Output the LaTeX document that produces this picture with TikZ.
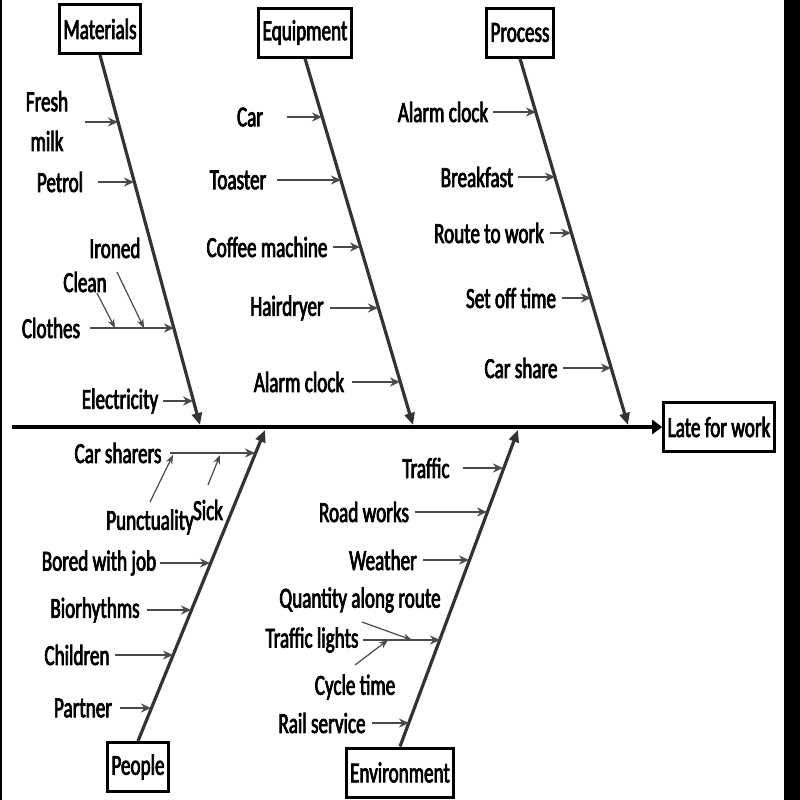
\documentclass[tikz,border=0pt]{standalone}
\usepackage{fontspec}
\setmainfont[FakeStretch=0.66,FakeBold=2.5]{Carlito}
\usetikzlibrary{arrows.meta}
\definecolor{bonegray}{HTML}{333333}
\definecolor{causegray}{HTML}{4A4A4A}
\newcommand{\fishfont}{\fontsize{14.5}{17.4}\selectfont}

\begin{document}
\begin{tikzpicture}[x=0.5pt,y=-0.5pt,
    catbox/.style={draw=black,line width=1.5pt,inner xsep=2pt,minimum height=24.5pt,font=\fishfont},
    cause/.style={inner sep=0pt,align=center,font=\fishfont},
    causearrow/.style={causegray,line width=1.2pt,-{Stealth[length=5pt,width=4.5pt]}},
    subarrow/.style={causegray,line width=0.6pt,-{Stealth[length=4.5pt,width=3.5pt]}},
    bone/.style={bonegray,line width=1.6pt,-{Triangle[length=6pt,width=5pt]}},
    spine/.style={black,line width=2.4pt,-{Triangle[length=5pt,width=7pt]}}]
  \useasboundingbox (0,0) rectangle (800,800);
  \fill[white] (0,0) rectangle (800,800);
  \fill[black] (784,0) rectangle (800,800);
  \draw[line width=1pt] (1,0) -- (1,800);

  \node[catbox] (mat) at (100,29) {Materials};
  \node[catbox] (equ) at (305,32.5) {Equipment};
  \node[catbox] (pro) at (520,32.5) {Process};
  \node[catbox] (ppl) at (138,767) {People};
  \node[catbox] (env) at (400,772.5) {Environment};
  \node[catbox] (late) at (719,427) {Late for work};

  \coordinate (tail) at (12,427);
  \coordinate (matTip) at (200,425);
  \coordinate (equTip) at (413,425);
  \coordinate (proTip) at (628,425);
  \coordinate (pplTip) at (265,430);
  \coordinate (envTip) at (518,430);

  \draw[spine] (tail) -- (late.west);
  \path (mat.south) [bone] edge (matTip)
        (equ.south) [bone] edge (equTip)
        (pro.south) [bone] edge (proTip)
        (ppl.north) [bone] edge (pplTip)
        (env.north) [bone] edge (envTip);

  \foreach \n/\txt/\tx/\ty/\ay/\ax/\bx in {
      m1/{Fresh\\[2.5pt]milk}/47/121/122/85/118,
      m2/Petrol/60/182/182/98/134,
      m3/Clothes/51/328/328/90/174,
      m4/Electricity/120/401/401/163/193,
      e1/Car/250/117/117/287/322,
      e2/Toaster/238/180/180/277/341,
      e3/Coffee machine/267/247/247/333/360,
      e4/Hairdryer/287/308/308/330/378,
      e5/Alarm clock/299/382/382/352/400,
      p1/Alarm clock/443/112/112/493/536,
      p2/Breakfast/477/177/177/518/555,
      p3/Route to work/489/233/233/550/571,
      p4/Set off time/511/298/298/562/591,
      p5/Car share/521/368/368/563/611,
      h1/Car sharers/118/453/453/170/255,
      h2/Bored with job/99/563/563/160/210,
      h3/Biorhythms/95/610/610/147/191,
      h4/Children/77/655/655/115/173,
      h5/Partner/83/708/708/120/151,
      v1/Traffic/426/468/468/463/503,
      v2/Road works/364/512/512/415/487,
      v3/Weather/383/560/560/423/469,
      v4/Traffic lights/312/640/640/363/440,
      v5/Rail service/322/723/723/372/409}
  {
    \node[cause] (\n) at (\tx,\ty) {\txt};
    \coordinate (\n-from) at (\ax,\ay);
    \coordinate (\n-to) at (\bx,\ay);
    \draw[causearrow] (\n-from) -- (\n-to);
  }

  \foreach \n/\txt/\tx/\ty/\ax/\ay/\bx/\by in {
      m3a/Clean/85/282/97/293/115/328,
      m3b/Ironed/115/248/117/272/144/328,
      h1a/Punctuality/150/522/150/502/173/455,
      h1b/Sick/208/510/208/485/220/455,
      v4a/Quantity along route/360/600/362/622/412/640,
      v4b/Cycle time/355/687/355/665/388/640}
  {
    \node[cause] (\n) at (\tx,\ty) {\txt};
    \coordinate (\n-from) at (\ax,\ay);
    \coordinate (\n-to) at (\bx,\by);
    \draw[subarrow] (\n-from) -- (\n-to);
  }
\end{tikzpicture}
\end{document}
